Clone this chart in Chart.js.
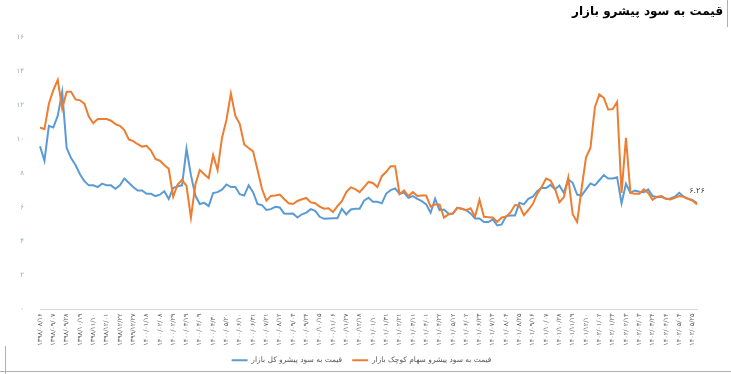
<!DOCTYPE html>
<html>
<head>
<meta charset="utf-8">
<script src="https://cdn.jsdelivr.net/npm/chart.js@4.4.1/dist/chart.umd.min.js"></script>
<style>
  html, body { margin: 0; padding: 0; background: #fff; }
  #wrap { position: relative; width: 731px; height: 374px; }
  .edge { position: absolute; background: #b0b0b0; }
</style>
</head>
<body>
<div id="wrap">
  <canvas id="chart" width="731" height="374"></canvas>
  <div class="edge" style="left:727px;top:0;width:1px;height:27px;"></div>
  <div class="edge" style="left:5px;top:346px;width:1px;height:28px;"></div>
  <div class="edge" style="left:0;top:371px;width:731px;height:1px;"></div>
</div>
<script>
// chart data (weekly), tick label every 3rd week
const chartTitle = "قیمت به سود پیشرو بازار";
const seriesNames = ["قیمت به سود پیشرو کل بازار", "قیمت به سود پیشرو سهام کوچک بازار"];

const tickLabels = [
  "۱۳۹۸/۰۸/۱۶", "۱۳۹۸/۰۹/۰۷", "۱۳۹۸/۰۹/۲۸", "۱۳۹۸/۱۰/۱۹", "۱۳۹۸/۱۱/۱۰", "۱۳۹۸/۱۲/۰۱", "۱۳۹۸/۱۲/۲۲", "۱۳۹۹/۱۲/۲۷",
  "۱۴۰۰/۰۱/۱۸", "۱۴۰۰/۰۲/۰۸", "۱۴۰۰/۰۲/۲۹", "۱۴۰۰/۰۳/۱۹", "۱۴۰۰/۰۴/۰۹", "۱۴۰۰/۰۴/۳۰", "۱۴۰۰/۰۵/۲۰", "۱۴۰۰/۰۶/۱۰",
  "۱۴۰۰/۰۶/۳۱", "۱۴۰۰/۰۷/۲۱", "۱۴۰۰/۰۸/۱۲", "۱۴۰۰/۰۹/۰۳", "۱۴۰۰/۰۹/۲۴", "۱۴۰۰/۱۰/۱۵", "۱۴۰۰/۱۱/۰۶", "۱۴۰۰/۱۱/۲۷",
  "۱۴۰۰/۱۲/۱۸", "۱۴۰۱/۰۱/۱۰", "۱۴۰۱/۰۱/۳۱", "۱۴۰۱/۰۲/۲۱", "۱۴۰۱/۰۳/۱۱", "۱۴۰۱/۰۴/۰۱", "۱۴۰۱/۰۴/۲۲", "۱۴۰۱/۰۵/۱۲",
  "۱۴۰۱/۰۶/۰۲", "۱۴۰۱/۰۶/۲۳", "۱۴۰۱/۰۷/۱۳", "۱۴۰۱/۰۸/۰۴", "۱۴۰۱/۰۸/۲۵", "۱۴۰۱/۰۹/۱۶", "۱۴۰۱/۱۰/۰۷", "۱۴۰۱/۱۰/۲۸",
  "۱۴۰۱/۱۱/۱۹", "۱۴۰۱/۱۲/۱۰", "۱۴۰۲/۰۱/۰۲", "۱۴۰۲/۰۱/۲۳", "۱۴۰۲/۰۲/۱۳", "۱۴۰۲/۰۳/۰۳", "۱۴۰۲/۰۳/۲۴", "۱۴۰۲/۰۴/۱۴",
  "۱۴۰۲/۰۵/۰۴", "۱۴۰۲/۰۵/۲۵"
];

// total market forward P/E
const marketPE = [
  9.6, 8.75, 10.8, 10.7, 11.4, 12.8, 9.5, 8.9, 8.5, 7.95,
  7.55, 7.3, 7.3, 7.2, 7.4, 7.3, 7.3, 7.1, 7.3, 7.7,
  7.45, 7.2, 7.0, 7.0, 6.8, 6.8, 6.67, 6.75, 6.95, 6.5,
  7.15, 7.25, 7.3, 9.45, 7.9, 6.7, 6.2, 6.27, 6.08, 6.85,
  6.9, 7.05, 7.35, 7.2, 7.2, 6.78, 6.7, 7.3, 6.9, 6.2,
  6.14, 5.85, 5.9, 6.04, 6.0, 5.65, 5.63, 5.65, 5.41, 5.6,
  5.7, 5.9, 5.8, 5.45, 5.33, 5.35, 5.36, 5.37, 5.92, 5.59,
  5.88, 5.92, 5.92, 6.4, 6.57, 6.33, 6.33, 6.24, 6.82, 7.02,
  7.12, 6.8, 6.88, 6.57, 6.67, 6.5, 6.37, 6.18, 5.69, 6.51,
  5.84, 5.88, 5.65, 5.63, 5.98, 5.92, 5.84, 5.65, 5.35, 5.35,
  5.14, 5.14, 5.3, 4.94, 5.0, 5.49, 5.53, 5.53, 6.27, 6.18,
  6.51, 6.63, 6.96, 7.16, 7.14, 7.33, 7.06, 7.29, 6.86, 7.65,
  7.45, 6.76, 6.7, 7.06, 7.41, 7.3, 7.6, 7.9, 7.7, 7.7,
  7.78, 6.24, 7.39, 6.86, 7.0, 6.92, 6.9, 7.06, 6.67, 6.6,
  6.63, 6.51, 6.53, 6.63, 6.86, 6.63, 6.51, 6.43, 6.26
];

// small-cap forward P/E
const smallCapPE = [
  10.7, 10.6, 12.1, 12.9, 13.5, 11.8, 12.8, 12.8, 12.35, 12.3,
  12.1, 11.35, 10.95, 11.2, 11.2, 11.2, 11.1, 10.9, 10.8, 10.55,
  10.0, 9.9, 9.72, 9.58, 9.63, 9.35, 8.85, 8.75, 8.5, 8.27,
  6.63, 7.35, 7.62, 7.27, 5.4, 7.35, 8.2, 7.95, 7.72, 9.08,
  8.2, 10.1, 11.15, 12.7, 11.4, 10.9, 9.7, 9.5, 9.3, 8.2,
  7.1, 6.4, 6.68, 6.7, 6.76, 6.5, 6.25, 6.2, 6.38, 6.48,
  6.56, 6.3, 6.25, 6.05, 5.93, 5.95, 5.73, 6.08, 6.37, 6.9,
  7.18, 7.08, 6.9, 7.2, 7.5, 7.44, 7.2, 7.84, 8.1, 8.43,
  8.43, 6.78, 7.0, 6.67, 6.9, 6.67, 6.7, 6.7, 6.05, 6.18,
  6.18, 5.4, 5.59, 5.65, 5.98, 5.92, 5.84, 5.95, 5.45, 6.45,
  5.45, 5.43, 5.41, 5.15, 5.41, 5.45, 5.72, 6.14, 6.1, 5.55,
  5.85, 6.2, 6.8, 7.2, 7.7, 7.58, 7.1, 6.3, 6.6, 7.75,
  5.6, 5.15, 7.1, 8.95, 9.5, 11.9, 12.65, 12.45, 11.76, 11.78,
  12.2, 6.86, 10.1, 6.86, 6.8, 6.8, 7.06, 6.86, 6.45, 6.63,
  6.67, 6.51, 6.47, 6.57, 6.67, 6.63, 6.51, 6.41, 6.18
];

const yMin = 0;
const yMax = 16;
const yStep = 2;

// persian digits
const faDigits = "۰۱۲۳۴۵۶۷۸۹";
function toFa(str) {
  return String(str).replace(/[0-9]/g, d => faDigits[+d]);
}

// one category per week, label only on every 3rd
const categories = marketPE.map((v, i) => (i % 3 === 0 && tickLabels[i / 3]) ? tickLabels[i / 3] : "");

const FONT = "'DejaVu Sans', sans-serif";

// value label on last point of the blue line
const lastLabel = {
  id: "lastLabel",
  afterDatasetsDraw(chart) {
    const meta = chart.getDatasetMeta(0);
    const pt = meta.data[meta.data.length - 1];
    if (!pt) return;
    const ctx = chart.ctx;
    ctx.save();
    ctx.font = "8px " + FONT;
    ctx.fillStyle = "#404040";
    ctx.textAlign = "center";
    ctx.textBaseline = "bottom";
    ctx.fillText(toFa(marketPE[marketPE.length - 1].toFixed(2)), pt.x, pt.y - 8);
    ctx.restore();
  }
};

const canvas = document.getElementById("chart");
const ctx = canvas.getContext("2d");

new Chart(ctx, {
  type: "line",
  data: {
    labels: categories,
    datasets: [
      {
        label: seriesNames[0],
        data: marketPE,
        borderColor: "#5b9bd5",
        backgroundColor: "#5b9bd5",
        borderWidth: 2,
        pointRadius: 0,
        tension: 0,
        order: 1
      },
      {
        label: seriesNames[1],
        data: smallCapPE,
        borderColor: "#ed7d31",
        backgroundColor: "#ed7d31",
        borderWidth: 2,
        pointRadius: 0,
        tension: 0,
        order: 0
      }
    ]
  },
  options: {
    responsive: false,
    animation: false,
    devicePixelRatio: 1,
    layout: { padding: { left: 0, right: 8, top: 0, bottom: 0 } },
    plugins: {
      title: {
        display: true,
        text: chartTitle,
        align: "end",
        color: "#000",
        font: { family: FONT, size: 12, weight: "bold" },
        padding: { top: 5, bottom: 18 }
      },
      legend: {
        position: "bottom",
        labels: {
          usePointStyle: true,
          pointStyle: "line",
          pointStyleWidth: 16,
          color: "#595959",
          font: { family: FONT, size: 7.5 },
          padding: 10,
          sort: (a, b) => a.datasetIndex - b.datasetIndex
        }
      },
      tooltip: { enabled: false }
    },
    scales: {
      x: {
        grid: { display: true, drawOnChartArea: false, drawTicks: false },
        border: { display: true, color: "#d9d9d9", width: 1 },
        ticks: {
          autoSkip: false,
          maxRotation: 90,
          minRotation: 90,
          color: "#595959",
          font: { family: FONT, size: 6.5 },
          padding: 4
        },
        afterFit: s => { s.height = 37; }
      },
      y: {
        min: yMin,
        max: yMax,
        grid: { display: false },
        border: { display: false },
        ticks: {
          stepSize: yStep,
          color: "#8eaacb",
          font: { family: FONT, size: 7 },
          padding: 8,
          callback: v => toFa(v)
        },
        afterFit: s => { s.width = 40; }
      },
      yRight: {
        position: "right",
        display: true,
        grid: { display: false },
        border: { display: false },
        ticks: { display: false },
        afterFit: s => { s.width = 26; }
      }
    }
  },
  plugins: [lastLabel]
});
</script>
</body>
</html>
